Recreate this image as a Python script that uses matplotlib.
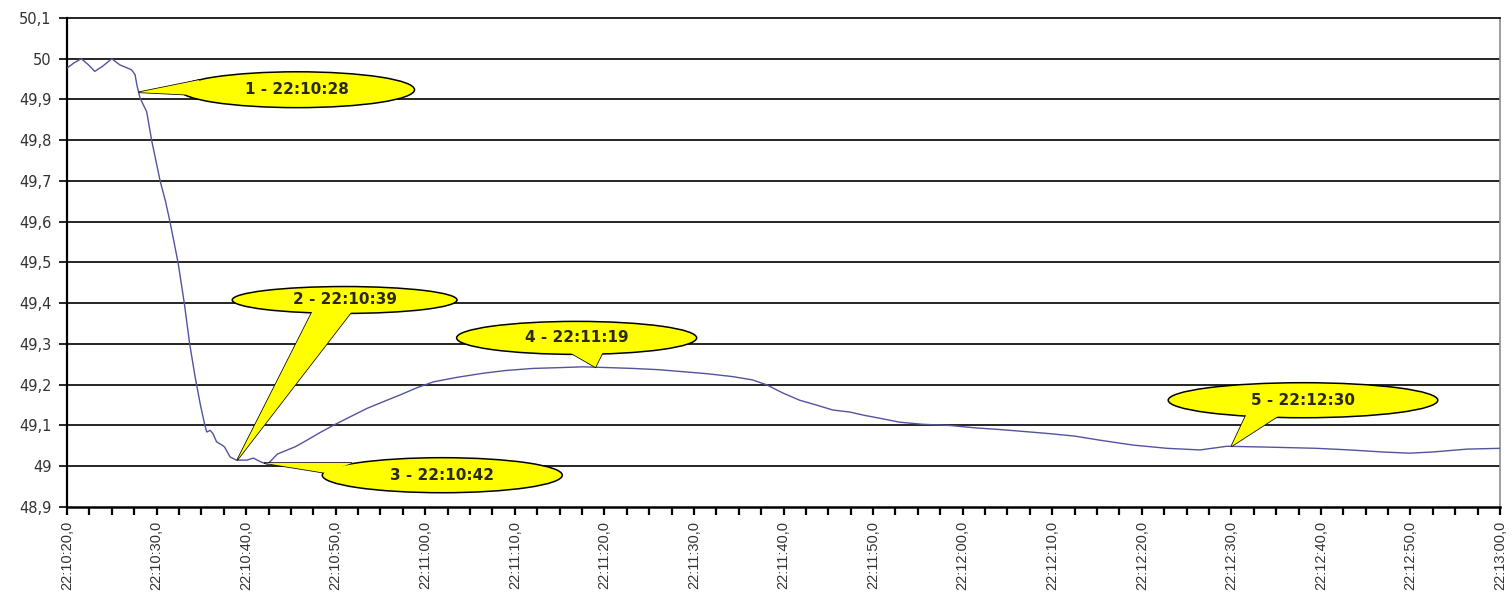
import numpy as np
import matplotlib
matplotlib.use("Agg")
import matplotlib.pyplot as plt
from matplotlib.patches import Ellipse, Polygon
from matplotlib.ticker import FixedLocator, FuncFormatter

# Frequency record, seconds after 22:10:20
t_sec = [0.0, 0.8, 1.6, 2.4, 3.1, 4.0, 5.0, 5.9, 7.2, 7.6, 7.8, 8.15, 8.9, 9.45, 10.4, 11.0,
         11.5, 12.4, 13.1, 13.7, 14.3, 14.9, 15.4, 15.6, 16.0, 16.3, 16.7, 17.3, 17.6, 18.2,
         18.9, 20.1, 20.8, 21.7, 22.4, 23.5, 25.5, 26.8, 28.2, 29.7, 31.5, 33.5,
         35.5, 37.2, 39.0, 40.9, 43.5, 46.4, 49.0, 52.0, 55.0, 57.6, 60.5, 63.2, 66.0,
         68.8, 71.5, 74.3, 76.5, 78.1, 79.9, 81.8, 83.7, 85.5, 87.4, 89.0, 90.7, 93.0,
         95.5, 98.6, 101.5, 104.2, 107.0, 109.7, 112.5, 115.3, 119.0, 122.8, 126.5,
         129.5, 133.9, 139.5, 143.2, 146.9, 149.9, 152.5, 156.3, 160.0]
freq_hz = [49.977, 49.990, 50.000, 49.985, 49.969, 49.982, 50.000, 49.985, 49.973, 49.961,
           49.936, 49.904, 49.870, 49.800, 49.700, 49.650, 49.600, 49.500, 49.400, 49.300,
           49.220, 49.150, 49.100, 49.084, 49.088, 49.080, 49.060, 49.052, 49.047, 49.023,
           49.015, 49.015, 49.020, 49.010, 49.005, 49.030, 49.048, 49.064, 49.082, 49.100,
           49.120, 49.142, 49.160, 49.175, 49.192, 49.207, 49.218, 49.228, 49.235, 49.240,
           49.242, 49.244, 49.242, 49.240, 49.237, 49.232, 49.227, 49.220, 49.212, 49.200,
           49.180, 49.162, 49.150, 49.138, 49.133, 49.125, 49.118, 49.108, 49.103, 49.100,
           49.094, 49.090, 49.085, 49.080, 49.074, 49.064, 49.052, 49.044, 49.040, 49.049,
           49.047, 49.044, 49.040, 49.035, 49.032, 49.035, 49.042, 49.044]

# Marked events: number, time (s after 22:10:20)
event_ids = [1, 2, 3, 4, 5]
event_sec = [8, 19, 22, 59, 130]

START_H, START_M, START_S = 22, 10, 20

def clock(sec):
    total = START_H * 3600 + START_M * 60 + START_S + int(round(sec))
    h, rem = divmod(total, 3600)
    m, s = divmod(rem, 60)
    return f"{h:02d}:{m:02d}:{s:02d}"

plt.rcParams['font.family'] = ['Liberation Sans', 'DejaVu Sans']

fig = plt.figure(figsize=(15.12, 5.92), dpi=100)
ax = fig.add_axes([0.0443, 0.1436, 0.9478, 0.826])

ax.set_xlim(0, 160)
ax.set_ylim(48.9, 50.1)

# horizontal grid
for v in np.arange(49.0, 50.05, 0.1):
    ax.axhline(v, color='black', lw=1.2, zorder=1)

ax.plot(t_sec, freq_hz, color='#53539f', lw=1.0, zorder=3)

# axes styling
ax.spines['top'].set_color('black')
ax.spines['top'].set_linewidth(1.2)
ax.spines['right'].set_color('#8c8c8c')
ax.spines['right'].set_linewidth(1.2)
ax.spines['left'].set_color('black')
ax.spines['left'].set_linewidth(1.6)
ax.spines['bottom'].set_color('black')
ax.spines['bottom'].set_linewidth(1.8)

ax.yaxis.set_major_locator(FixedLocator(np.round(np.arange(48.9, 50.15, 0.1), 1)))
ax.yaxis.set_major_formatter(FuncFormatter(lambda v, p: (f"{v:.1f}".rstrip('0').rstrip('.')).replace('.', ',')))
ax.tick_params(axis='y', direction='out', length=6, width=1.2, labelsize=10.5,
               labelcolor='#333333', pad=5)
for lab in ax.get_yticklabels():
    lab.set_family(['DejaVu Sans'])

ax.xaxis.set_major_locator(FixedLocator(np.arange(0, 161, 10)))
ax.xaxis.set_minor_locator(FixedLocator(np.arange(0, 161, 2.5)))
ax.xaxis.set_major_formatter(FuncFormatter(lambda v, p: clock(v) + ",0"))
ax.tick_params(axis='x', which='both', direction='out', length=6, width=1.6,
               labelsize=10.5, labelcolor='#333333', labelrotation=90, pad=4)

# callout layout: ellipse centre/size and wedge base points (data units)
callout_center = [(25.7, 49.924), (31.0, 49.408), (41.9, 48.978), (56.9, 49.315), (138.0, 49.162)]
callout_size = [(26.2, 0.088), (25.1, 0.066), (26.8, 0.086), (26.8, 0.081), (30.1, 0.086)]
callout_base = [[(14.8, 49.948), (13.3, 49.912)],
                [(27.4, 49.380), (31.8, 49.380)],
                [(29.0, 48.983), (31.8, 49.008)],
                [(55.3, 49.290), (60.1, 49.292)],
                [(132.4, 49.161), (137.6, 49.157)]]

for eid, es, c, sz, base in zip(event_ids, event_sec, callout_center, callout_size, callout_base):
    tip = (es, float(np.interp(es, t_sec, freq_hz)))
    wedge = Polygon([tip, base[0], base[1]], closed=True, facecolor='#ffff00',
                    edgecolor='black', lw=1.1, zorder=5)
    ax.add_patch(wedge)
    ell = Ellipse(c, sz[0], sz[1], facecolor='#ffff00', edgecolor='black', lw=1.1, zorder=6)
    ax.add_patch(ell)
    cover = Polygon([tip, base[0], base[1]], closed=True, facecolor='#ffff00',
                    edgecolor='none', zorder=7)
    ax.add_patch(cover)
    ax.text(c[0], c[1], f"{eid} - {clock(es)}", ha='center', va='center',
            fontsize=11, fontweight='bold', color='#2a2a10', family=['DejaVu Sans'],
            zorder=8)

fig.savefig("out.png", dpi=100)
